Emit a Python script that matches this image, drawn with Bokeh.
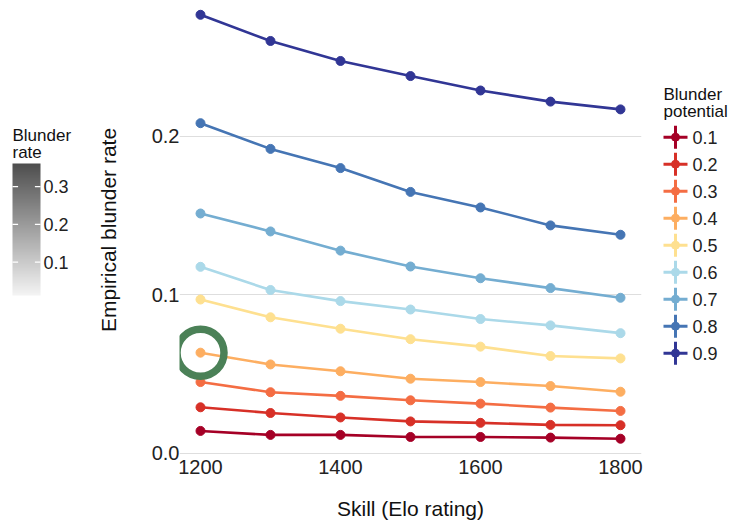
import numpy as np
from bokeh.plotting import figure
from bokeh.models import Range1d, FixedTicker, PrintfTickFormatter, LinearColorMapper
from bokeh.layouts import row
from bokeh.core.properties import value
from bokeh.embed import file_html
from bokeh.resources import INLINE

# ---------------- data ----------------
skill = [1200, 1300, 1400, 1500, 1600, 1700, 1800]
potentials = ["0.1", "0.2", "0.3", "0.4", "0.5", "0.6", "0.7", "0.8", "0.9"]
rate_01 = [0.0142, 0.0117, 0.0117, 0.0104, 0.0104, 0.0100, 0.0093]
rate_02 = [0.0291, 0.0255, 0.0227, 0.0202, 0.0193, 0.0180, 0.0178]
rate_03 = [0.0450, 0.0386, 0.0363, 0.0335, 0.0314, 0.0289, 0.0268]
rate_04 = [0.0635, 0.0561, 0.0518, 0.0471, 0.0450, 0.0425, 0.0389]
rate_05 = [0.0970, 0.0858, 0.0786, 0.0720, 0.0673, 0.0614, 0.0599]
rate_06 = [0.1176, 0.1030, 0.0960, 0.0907, 0.0847, 0.0807, 0.0758]
rate_07 = [0.1512, 0.1399, 0.1278, 0.1178, 0.1104, 0.1042, 0.0981]
rate_08 = [0.2081, 0.1919, 0.1798, 0.1648, 0.1550, 0.1437, 0.1378]
rate_09 = [0.2764, 0.2599, 0.2473, 0.2378, 0.2287, 0.2217, 0.2168]
rates = [rate_01, rate_02, rate_03, rate_04, rate_05, rate_06, rate_07, rate_08, rate_09]
x_ticks = [1200, 1400, 1600, 1800]
y_ticks = [0.0, 0.1, 0.2]
blunder_rate_ticks = [0.1, 0.2, 0.3]
blunder_rate_labels = ["0.1", "0.2", "0.3"]
blunder_rate_low, blunder_rate_high = 0.012, 0.361
highlight_series = 3  # 0.4 potential, first skill level

# ---------------- style / layout ----------------
colors = ["#a50026", "#d73027", "#f46d43", "#fdae61", "#fee090",
          "#abd9e9", "#74add1", "#4575b4", "#313695"]
FONT = "Liberation Sans"
H = 529
BOTTOM = 70          # space under every frame (frames share top/bottom)
FRAME_H = H - BOTTOM


def bare(fig):
    fig.outline_line_color = None
    fig.xgrid.visible = False
    fig.ygrid.visible = False


# ---------------- left: colour bar ----------------
LW = 88
bar_x, bar_w, bar_top_px, bar_bot_px = 12, 28, 163, 295
upp = (blunder_rate_high - blunder_rate_low) / (bar_bot_px - bar_top_px)
cb_y_end = blunder_rate_high + bar_top_px * upp
cb_y_start = blunder_rate_low - (FRAME_H - bar_bot_px) * upp
left = figure(width=LW, height=H, output_backend="svg", toolbar_location=None,
              x_range=Range1d(0, LW), y_range=Range1d(cb_y_start, cb_y_end),
              x_axis_location=None, y_axis_location=None,
              min_border_left=0, min_border_right=0, min_border_top=0, min_border_bottom=BOTTOM)
bare(left)
palette = []
for i in range(256):
    g = int(round(244 - (244 - 78) * i / 255))
    palette.append("#%02x%02x%02x" % (g, g, g))
mapper = LinearColorMapper(palette=palette, low=blunder_rate_low, high=blunder_rate_high)
grad = np.linspace(blunder_rate_low, blunder_rate_high, 256).reshape(256, 1)
left.image(image=[grad], x=bar_x, y=blunder_rate_low, dw=bar_w,
           dh=blunder_rate_high - blunder_rate_low, color_mapper=mapper)
tick_len = bar_w / 5
n = len(blunder_rate_ticks)
left.segment(x0=[bar_x] * n, x1=[bar_x + tick_len] * n, y0=blunder_rate_ticks, y1=blunder_rate_ticks,
             line_color="white", line_width=1.3)
left.segment(x0=[bar_x + bar_w - tick_len] * n, x1=[bar_x + bar_w] * n, y0=blunder_rate_ticks,
             y1=blunder_rate_ticks, line_color="white", line_width=1.3)
left.text(x=[bar_x + bar_w + 3] * n, y=blunder_rate_ticks, text=blunder_rate_labels,
          text_font=value(FONT), text_font_size=value("18px"), text_baseline="middle",
          text_align="left", text_color="#222222")
left.text(x=[bar_x], y=[cb_y_end - 125 * upp], text=["Blunder\nrate"], text_font=value(FONT),
          text_font_size=value("17px"), text_baseline="top", text_align="left",
          text_color="#111111", text_line_height=0.92)

# ---------------- main plot ----------------
MW = 560
p = figure(width=MW, height=H, output_backend="svg", toolbar_location=None,
           x_range=Range1d(1170, 1830), y_range=Range1d(-0.0038, 0.2854),
           min_border_left=91, min_border_right=7, min_border_top=0, min_border_bottom=BOTTOM)
p.outline_line_color = None
p.xgrid.visible = False
p.ygrid.grid_line_color = "#dedede"
p.ygrid.grid_line_width = 1.2

p.xaxis.ticker = FixedTicker(ticks=x_ticks)
p.yaxis.ticker = FixedTicker(ticks=y_ticks)
p.yaxis.formatter = PrintfTickFormatter(format="%.1f")
for ax in (p.xaxis[0], p.yaxis[0]):
    ax.axis_line_color = None
    ax.major_tick_line_color = None
    ax.minor_tick_line_color = None
    ax.major_tick_out = 0
    ax.major_tick_in = 0
    ax.major_label_text_font = FONT
    ax.major_label_text_font_size = "20px"
    ax.major_label_text_color = "#222222"
    ax.axis_label_text_font = FONT
    ax.axis_label_text_font_size = "21px"
    ax.axis_label_text_font_style = "normal"
    ax.axis_label_text_color = "#111111"
p.xaxis.axis_label = "Skill (Elo rating)"
p.yaxis.axis_label = "Empirical blunder rate"
p.xaxis.major_label_standoff = 0
p.xaxis.axis_label_standoff = 20
p.yaxis.major_label_standoff = 0
p.yaxis.axis_label_standoff = 29

for ys, c in zip(rates, colors):
    p.line(skill, ys, line_color=c, line_width=2.6)
    p.scatter(skill, ys, size=9, fill_color=c, line_color=c)

p.scatter([skill[0]], [rates[highlight_series][0]], marker="circle", size=47,
          fill_color=None, line_color="#4b8157", line_width=7.5)

# ---------------- right: legend ----------------
RW = 732 - LW - MW
lg = figure(width=RW, height=H, output_backend="svg", toolbar_location=None,
            x_range=Range1d(0, RW), y_range=Range1d(FRAME_H, 0),
            x_axis_location=None, y_axis_location=None,
            min_border_left=0, min_border_right=0, min_border_top=0, min_border_bottom=BOTTOM)
bare(lg)
leg_top, leg_step, key_x, key_half = 136.7, 27.0, 27.0, 11.5
ys_leg = [leg_top + i * leg_step for i in range(len(potentials))]
m = len(ys_leg)
lg.segment(x0=[key_x - 12] * m, x1=[key_x + 12] * m, y0=ys_leg, y1=ys_leg,
           line_color=colors, line_width=3)
lg.segment(x0=[key_x] * m, x1=[key_x] * m,
           y0=[y - key_half for y in ys_leg], y1=[y + key_half for y in ys_leg],
           line_color=colors, line_width=3)
lg.scatter([key_x] * m, ys_leg, size=8, fill_color=colors, line_color=colors)
lg.text(x=[44] * m, y=ys_leg, text=potentials, text_font=value(FONT),
        text_font_size=value("18px"), text_baseline="middle", text_align="left",
        text_color="#222222")
lg.text(x=[15], y=[84], text=["Blunder\npotential"], text_font=value(FONT),
        text_font_size=value("17px"), text_baseline="top", text_align="left",
        text_color="#111111", text_line_height=0.92)

layout = row(left, p, lg)
open("out.html", "w").write(file_html(layout, INLINE))
